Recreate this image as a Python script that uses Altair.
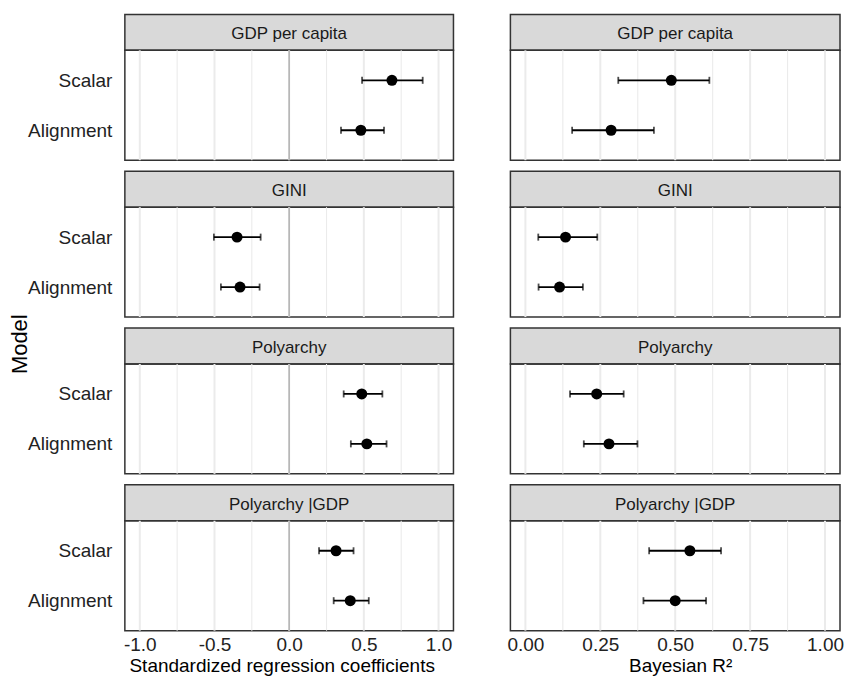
import altair as alt
import pandas as pd

FONT = "Liberation Sans"

variables = ["GDP per capita", "GINI", "Polyarchy", "Polyarchy |GDP"]
models = ["Scalar", "Alignment"]

# Standardized regression coefficients, per variable: Scalar, Alignment
coef_est = [0.688, 0.480, -0.349, -0.329, 0.486, 0.520, 0.314, 0.409]
coef_lo = [0.488, 0.347, -0.504, -0.457, 0.365, 0.413, 0.200, 0.298]
coef_hi = [0.894, 0.635, -0.191, -0.198, 0.624, 0.652, 0.431, 0.533]

# Bayesian R^2, per variable: Scalar, Alignment
r2_est = [0.487, 0.286, 0.134, 0.114, 0.238, 0.279, 0.549, 0.500]
r2_lo = [0.310, 0.156, 0.043, 0.044, 0.149, 0.195, 0.413, 0.394]
r2_hi = [0.614, 0.429, 0.240, 0.192, 0.328, 0.374, 0.653, 0.603]

coef_ticks = [-1.0, -0.5, 0.0, 0.5, 1.0]
coef_minor = [-0.75, -0.25, 0.25, 0.75]
r2_ticks = [0.0, 0.25, 0.5, 0.75, 1.0]
r2_minor = [0.125, 0.375, 0.625, 0.875]


def make_df(est, lo, hi):
    rows = []
    k = 0
    for v in variables:
        for m in models:
            rows.append({"variable": v, "model": m, "est": est[k], "lo": lo[k], "hi": hi[k]})
            k += 1
    return pd.DataFrame(rows)


coef_df = make_df(coef_est, coef_lo, coef_hi)
r2_df = make_df(r2_est, r2_lo, r2_hi)

W_L, W_R = 329, 330
PANEL_H = 110
STRIP_H = 36
GAP = 11


def strip(label, width, first):
    top = 0 if first else GAP
    h = STRIP_H + top
    d = pd.DataFrame({"label": [label]})
    base = alt.Chart(d)
    rect = base.mark_rect(fill="#d9d9d9", stroke="#333333", strokeWidth=1.5).encode(
        x=alt.value(0), x2=alt.value(width), y=alt.value(top), y2=alt.value(top + STRIP_H)
    )
    txt = base.mark_text(fontSize=17, color="#1a1a1a", baseline="alphabetic", align="center").encode(
        text="label:N", x=alt.value(width / 2), y=alt.value(top + 25)
    )
    return alt.layer(rect, txt).properties(width=width, height=h)


def panel(df, width, domain, ticks, minor, fmt, zero, bottom, left, xtitle, title_x, title_y, model_title):
    xscale = alt.Scale(domain=domain, nice=False, zero=False)
    if bottom:
        xaxis = alt.Axis(
            values=ticks, format=fmt, labelExpr="replace(datum.label, '\u2212', '-')",
            labelFontSize=19, labelColor="#222222", labelFlush=False, labelPadding=5,
            ticks=False, tickSize=0, domain=False, grid=False,
            title=xtitle, titleFontSize=19, titleFontWeight="normal", titleColor="#000000",
            titleX=title_x, titleY=title_y, titleAlign="center", titleBaseline="alphabetic",
        )
    else:
        xaxis = None

    def X(field):
        return alt.X(field, type="quantitative", scale=xscale, axis=xaxis)

    if left:
        ykw = dict(
            labelFontSize=19, labelColor="#222222", labelPadding=13,
            labelExpr="datum.label == 'Alignment' ? 'Alignment\u00a0' : datum.label",
            ticks=False, tickSize=0, domain=False, grid=False,
        )
        if model_title:
            ykw.update(
                title="Model", titleFontSize=22, titleFontWeight="normal", titleColor="#000000",
                titleAngle=270, titleX=-105, titleY=136.7, titleAlign="center", titleBaseline="middle",
            )
        else:
            ykw.update(title=None)
        yaxis = alt.Axis(**ykw)
    else:
        yaxis = None
    Y = alt.Y("model:N", sort=models, scale=alt.Scale(type="point", padding=0.6), axis=yaxis)

    layers = [
        alt.Chart(pd.DataFrame({"g": minor})).mark_rule(color="#ebebeb", strokeWidth=1.1).encode(x=X("g")),
        alt.Chart(pd.DataFrame({"g": ticks})).mark_rule(color="#ebebeb", strokeWidth=2).encode(x=X("g")),
    ]
    if zero:
        layers.append(
            alt.Chart(pd.DataFrame({"z": [0.0]})).mark_rule(color="#b5b5b5", strokeWidth=1.6).encode(x=X("z"))
        )
    base = alt.Chart(df)
    layers.append(base.mark_rule(color="black", strokeWidth=1.8).encode(x=X("lo"), x2=alt.X2("hi"), y=Y))
    layers.append(
        base.transform_fold(["lo", "hi"], as_=["end", "val"])
        .mark_tick(color="black", size=7, thickness=1.8)
        .encode(x=X("val"), y=Y)
    )
    layers.append(base.mark_circle(color="black", size=121, opacity=1).encode(x=X("est"), y=Y))
    return alt.layer(*layers).properties(
        width=width, height=PANEL_H,
        view=alt.ViewBackground(stroke="#333333", strokeWidth=1.5),
    )


cells = []
for i, v in enumerate(variables):
    first = i == 0
    last = i == len(variables) - 1
    cells.append(strip(v, W_L, first))
    cells.append(strip(v, W_R, first))
    cells.append(
        panel(coef_df[coef_df["variable"] == v], W_L, [-1.1, 1.1], coef_ticks, coef_minor, ".1f",
              True, last, True, "Standardized regression coefficients", 157, 41, i == 1)
    )
    cells.append(
        panel(r2_df[r2_df["variable"] == v], W_R, [-0.05, 1.05], r2_ticks, r2_minor, ".2f",
              False, last, False, "Bayesian R\u00b2", 170, 41, False)
    )

chart = (
    alt.concat(*cells, columns=2, spacing={"row": 0, "column": 57}, bounds="flush")
    .properties(padding={"left": 0, "top": 4, "right": 0, "bottom": 0})
    .configure(font=FONT)
    .configure_view(stroke="transparent")
)

chart.save("out.html", embed_options={"renderer": "svg", "actions": False})
